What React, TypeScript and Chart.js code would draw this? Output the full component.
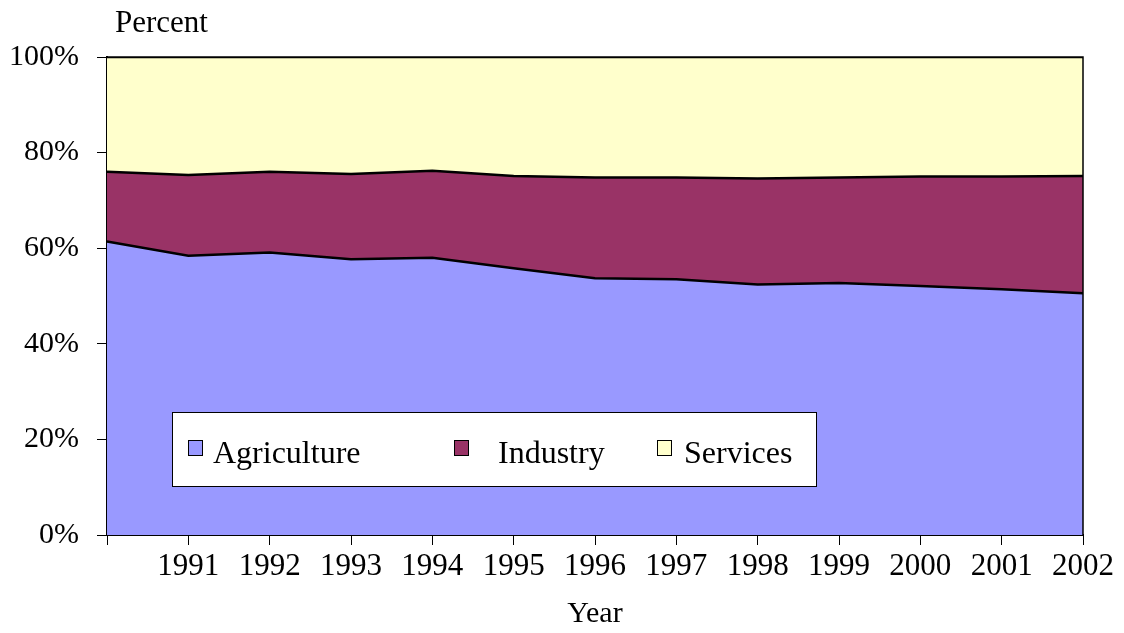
import React, { useEffect, useRef } from 'react';
import { Chart, registerables } from 'chart.js';

Chart.register(...registerables);

// ---- data ----
const years = ['', '1991', '1992', '1993', '1994', '1995', '1996', '1997', '1998', '1999', '2000', '2001', '2002'];
const agriculture = [61.4, 58.4, 59.1, 57.7, 58.0, 55.8, 53.7, 53.5, 52.4, 52.7, 52.1, 51.4, 50.6];
const industry = [14.6, 16.9, 16.9, 17.8, 18.2, 19.3, 21.1, 21.3, 22.2, 22.1, 22.9, 23.6, 24.5];
const services = [24.0, 24.7, 24.0, 24.5, 23.8, 24.9, 25.2, 25.2, 25.4, 25.2, 25.0, 25.0, 24.9];
const seriesNames = ['Agriculture', 'Industry', 'Services'];
const seriesColors = ['#9999FF', '#993366', '#FFFFCC'];
const yTickValues = [0, 20, 40, 60, 80, 100];
const yAxisLabel = 'Percent';
const xAxisLabel = 'Year';

const FONT = "'Liberation Serif', 'Times New Roman', serif";

const framePlugin = {
  id: 'frame',
  afterDatasetsDraw(chart: any) {
    const { ctx, chartArea: ca } = chart;
    ctx.save();
    ctx.strokeStyle = '#000';
    ctx.lineWidth = 1.5;
    ctx.beginPath();
    ctx.moveTo(ca.left, ca.top);
    ctx.lineTo(ca.right, ca.top);
    ctx.lineTo(ca.right, ca.bottom);
    ctx.stroke();
    ctx.restore();
  },
};

const legendPlugin = {
  id: 'boxLegend',
  afterDraw(chart: any) {
    const { ctx, chartArea: ca } = chart;
    const bx = ca.left + 65;
    const by = ca.top + 355;
    const bw = 644;
    const bh = 74;
    ctx.save();
    ctx.fillStyle = '#ffffff';
    ctx.fillRect(bx, by, bw, bh);
    ctx.strokeStyle = '#000';
    ctx.lineWidth = 1;
    ctx.strokeRect(bx + 0.5, by + 0.5, bw, bh);
    const sqX = [16, 282, 485];
    const txX = [41, 326, 512];
    ctx.font = `32px ${FONT}`;
    ctx.textBaseline = 'alphabetic';
    ctx.textAlign = 'left';
    seriesNames.forEach((name, i) => {
      ctx.fillStyle = seriesColors[i];
      ctx.fillRect(bx + sqX[i], by + 28, 14, 15);
      ctx.strokeStyle = '#000';
      ctx.strokeRect(bx + sqX[i] + 0.5, by + 28.5, 14, 15);
      ctx.fillStyle = '#000';
      ctx.fillText(name, bx + txX[i], by + 51);
    });
    // axis caption at top
    ctx.font = `31px ${FONT}`;
    ctx.textBaseline = 'middle';
    ctx.fillText(yAxisLabel, ca.left + 8, ca.top - 33);
    ctx.restore();
  },
};

export default function App() {
  const ref = useRef<HTMLCanvasElement | null>(null);
  useEffect(() => {
    if (!ref.current) return;
    const datasets = [agriculture, industry, services].map((d, i) => ({
      label: seriesNames[i],
      data: d,
      backgroundColor: seriesColors[i],
      borderColor: '#000',
      borderWidth: 2.5,
      pointRadius: 0,
      tension: 0,
      fill: i === 0 ? 'origin' : '-1',
    }));
    const chart = new Chart(ref.current, {
      type: 'line',
      data: { labels: years, datasets },
      options: {
        animation: false,
        responsive: false,
        layout: { padding: { top: 57, right: 41, left: 0, bottom: 0 } },
        plugins: { legend: { display: false }, tooltip: { enabled: false } },
        scales: {
          x: {
            offset: false,
            grid: { display: true, drawOnChartArea: false, drawTicks: true, tickLength: 10, color: '#000', lineWidth: 1 },
            border: { display: true, color: '#000', width: 2 },
            ticks: { color: '#000', font: { family: FONT, size: 31 }, padding: 3, maxRotation: 0, autoSkip: false },
            title: { display: true, text: xAxisLabel, color: '#000', font: { family: FONT, size: 30 }, padding: { top: 0, bottom: 1 } },
            afterFit: (s: any) => { s.height = 98; },
          },
          y: {
            stacked: true,
            min: 0,
            max: 100,
            afterBuildTicks: (s: any) => { s.ticks = yTickValues.map((v) => ({ value: v })); },
            grid: { display: true, drawOnChartArea: false, drawTicks: true, tickLength: 10, color: '#000', lineWidth: 1 },
            border: { display: true, color: '#000', width: 2 },
            ticks: { color: '#000', font: { family: FONT, size: 30 }, padding: 18, callback: (v: any) => v + '%' },
            afterFit: (s: any) => { s.width = 107; },
          },
        },
      },
      plugins: [framePlugin, legendPlugin],
    });
    return () => chart.destroy();
  }, []);
  return (
    <div style={{ position: 'absolute', left: 0, top: 0, width: 1124, height: 633, background: '#fff' }}>
      <canvas ref={ref} width={1124} height={633} style={{ width: 1124, height: 633, display: 'block' }} />
    </div>
  );
}
